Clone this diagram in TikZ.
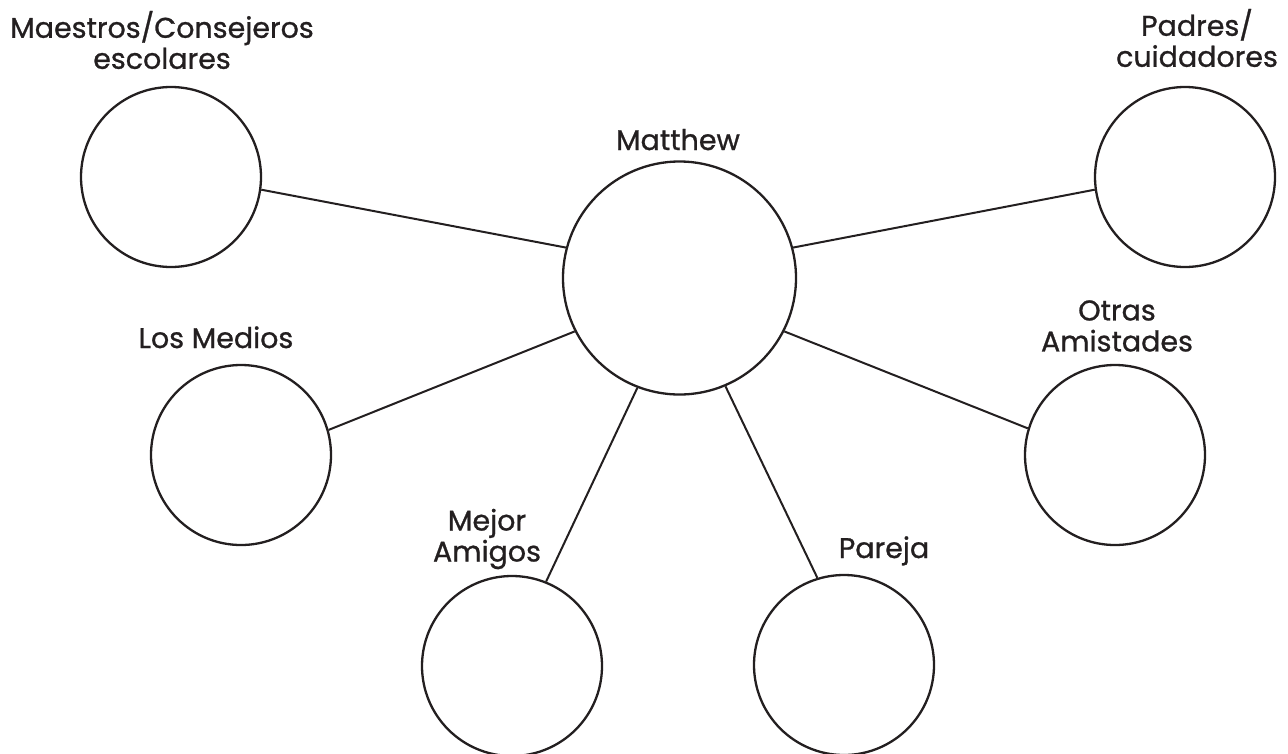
\documentclass[tikz,border=0pt]{standalone}
\usepackage{fontspec}
\setmainfont{Poppins}[FakeBold=0.9]
\tikzstyle{person}=[draw=ink,line width=2.3pt,circle,minimum size=180pt,inner sep=0pt]
\tikzstyle{edge} = [draw=ink,line width=2pt,-]
\tikzstyle{tag} = [text=ink,inner sep=0pt,align=center,font=\fontsize{28.5}{31}\selectfont]
\definecolor{ink}{HTML}{231F20}

\begin{document}
\begin{tikzpicture}[x=1pt, y=-1pt]
    \useasboundingbox (0,0) rectangle (1288,753);
    % First we draw the circles
    \node[person, minimum size=233pt] (mat) at (679.5,278) {};
    \foreach \pos/\name in {{(171,177)/mae}, {(1185,177)/pad}, {(241,455)/med}, {(1115,455)/otr}, {(512,666)/mej}, {(844,665)/par}}
        \node[person] (\name) at \pos {};
    % Then the names above them
    \node[tag, anchor=base] (matT) at (678,150) {Matthew};
    \node[tag] (maeT) at (162,40) {Maestros/Consejeros\\escolares};
    \node[tag] (padT) at (1197,38) {Padres/\\cuidadores};
    \node[tag, anchor=base] (medT) at (216,348) {Los Medios};
    \node[tag] (otrT) at (1117,326) {Otras\\Amistades};
    \node[tag] (mejT) at (487,539) {Mejor\\Amigos};
    \node[tag, anchor=base] (parT) at (884,558) {Pareja};
    % Connect every circle with Matthew
    \foreach \source/\sa/\da in {mae/352/165, pad/188/15, med/16/207, otr/163/333, mej/68/249, par/107/293}
        \path[edge] (\source.\sa) -- (mat.\da);
\end{tikzpicture}
\end{document}
